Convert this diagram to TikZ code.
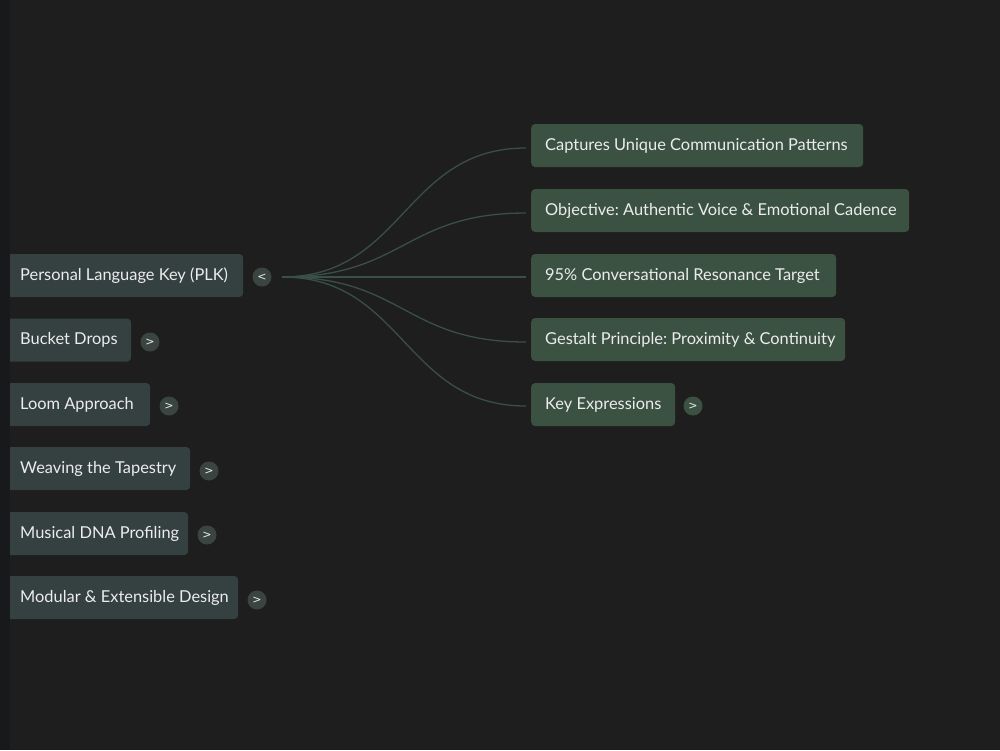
\documentclass[tikz,border=0pt]{standalone}
\usepackage{fontspec}
\setmainfont{Lato}
\newfontfamily\btnfont{DejaVu Sans}
\frenchspacing
\definecolor{bg}{HTML}{1E1E1E}
\definecolor{strip}{HTML}{17191B}
\definecolor{leftfill}{HTML}{354140}
\definecolor{rightfill}{HTML}{3B5243}
\definecolor{connc}{HTML}{3A4F47}
\definecolor{btnleft}{HTML}{3A4542}
\definecolor{btnright}{HTML}{3B5243}
\definecolor{txt}{HTML}{ECECEC}
\tikzset{
  box/.style={rectangle, rounded corners=4pt, minimum height=43pt, inner xsep=14pt, inner ysep=0pt,
    anchor=west, text=txt, font=\fontsize{16.4}{19}\selectfont},
  lbox/.style={box, fill=leftfill},
  rbox/.style={box, fill=rightfill},
  btn/.style={circle, minimum size=19pt, inner sep=0pt, text=txt, font=\btnfont\fontsize{11}{13}\selectfont},
  lbtn/.style={btn, fill=btnleft},
  rbtn/.style={btn, fill=btnright},
  conn/.style={draw=connc, line width=1.3pt},
}
\begin{document}
\begin{tikzpicture}[x=1pt,y=-1pt]
\useasboundingbox (0,0) rectangle (1000,750);
\fill[bg] (0,0) rectangle (1000,750);
% left nodes
\node[lbox] (plk) at (6,275.5) {\makebox[209pt][l]{Personal Language Key (PLK)}};
\node[lbox] (bucket) at (6,340) {\makebox[97pt][l]{Bucket Drops}};
\node[lbox] (loom) at (6,404.5) {\makebox[116pt][l]{Loom Approach}};
\node[lbox] (weave) at (6,468.5) {\makebox[156pt][l]{Weaving the Tapestry}};
\node[lbox] (dna) at (6,533.5) {\makebox[154pt][l]{Musical DNA Profiling}};
\node[lbox] (modular) at (6,597.5) {\makebox[204pt][l]{Modular \& Extensible Design}};
% left buttons
\node[lbtn] (bplk) at (262,277) {<};
\node[lbtn] (bbucket) at (150,342) {>};
\node[lbtn] (bloom) at (169,406) {>};
\node[lbtn] (bweave) at (209,471) {>};
\node[lbtn] (bdna) at (207,535) {>};
\node[lbtn] (bmodular) at (257,600) {>};
% right nodes
\node[rbox] (cap) at (531,145.5) {\makebox[304pt][l]{Captures Unique Communication Patterns}};
\node[rbox] (obj) at (531,210.5) {\makebox[350pt][l]{Objective: Authentic Voice \& Emotional Cadence}};
\node[rbox] (res) at (531,275.5) {\makebox[277pt][l]{95\% Conversational Resonance Target}};
\node[rbox] (gest) at (531,339.5) {\makebox[286pt][l]{Gestalt Principle: Proximity \& Continuity}};
\node[rbox] (key) at (531,404.5) {\makebox[116pt][l]{Key Expressions}};
\node[rbtn] (bkey) at (693,406) {>};
% connectors
\coordinate (src) at (282,277);
\foreach \t/\yy in {cap/148,obj/213,res/277,gest/342,key/406}{
  \coordinate (e\t) at (526,\yy);
  \draw[conn] (src) .. controls +(122,0) and +(-122,0) .. (e\t);
}
% left strip
\fill[strip] (0,0) rectangle (10,750);
\end{tikzpicture}
\end{document}
